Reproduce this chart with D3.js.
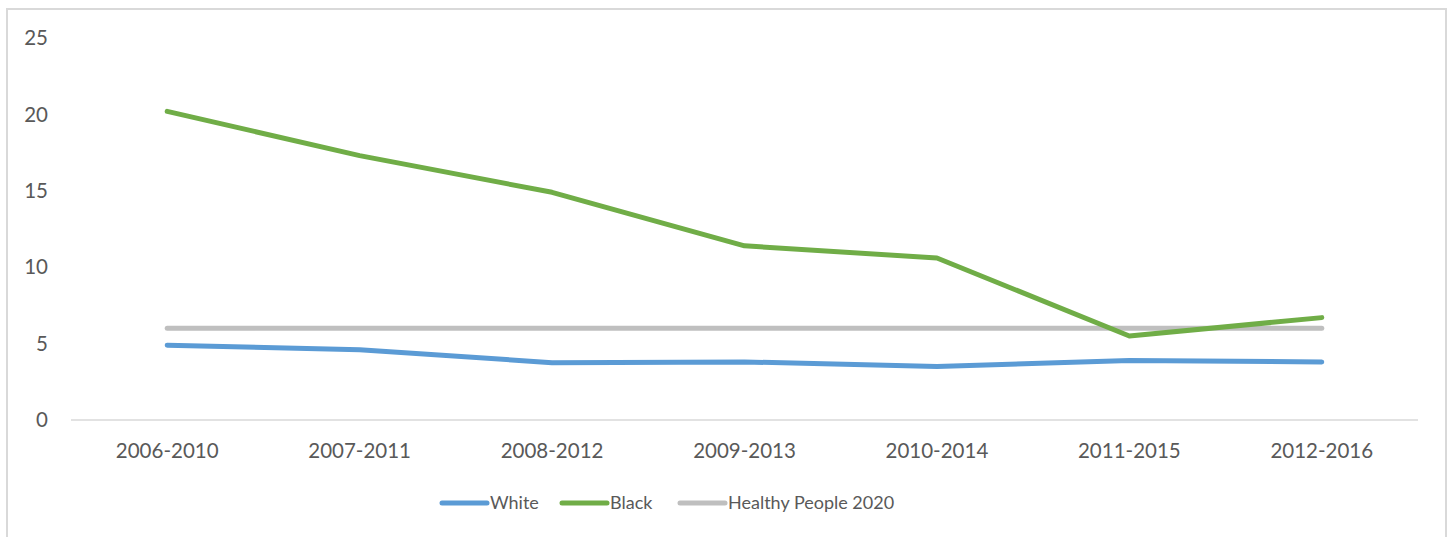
<!DOCTYPE html>
<html>
<head>
<meta charset="utf-8">
<script src="https://cdn.jsdelivr.net/npm/d3@7"></script>
<style>
  body { margin: 0; background: #fff; }
  svg { display: block; font-family: Lato, "Open Sans", sans-serif; }
</style>
</head>
<body>
<svg id="chart" width="1450" height="537"></svg>
<script>
'use strict';

// Data
const periods = ['2006-2010', '2007-2011', '2008-2012', '2009-2013', '2010-2014', '2011-2015', '2012-2016'];
const white = [4.9, 4.6, 3.75, 3.8, 3.5, 3.9, 3.8];
const black = [20.2, 17.3, 14.9, 11.4, 10.6, 5.5, 6.7];
const healthyPeople = [6, 6, 6, 6, 6, 6, 6];
const yTicks = [0, 5, 10, 15, 20, 25];

const seriesNames = ['White', 'Black', 'Healthy People 2020'];
const seriesColors = ['#5b9bd5', '#70ad47', '#bfbfbf'];

const svg = d3.select('#chart');

// outer chart border
svg.append('rect')
  .attr('x', 7).attr('y', 9)
  .attr('width', 1439).attr('height', 540)
  .attr('fill', 'none')
  .attr('stroke', '#d9d9d9')
  .attr('stroke-width', 2);

// scales
const x = d3.scaleBand()
  .domain(periods)
  .range([71, 1418]);
const y = d3.scaleLinear()
  .domain([0, 25])
  .range([420, 38]);

const cx = d => x(d) + x.bandwidth() / 2;

// y labels (no gridlines in the reference)
svg.append('g')
  .selectAll('text')
  .data(yTicks)
  .join('text')
  .attr('x', 48)
  .attr('y', d => y(d))
  .attr('dy', '0.35em')
  .attr('text-anchor', 'end')
  .attr('font-size', 20.5)
  .attr('fill', '#595959')
  .text(d => d);

// x axis line
svg.append('line')
  .attr('x1', 71).attr('x2', 1418)
  .attr('y1', y(0)).attr('y2', y(0))
  .attr('stroke', '#d9d9d9')
  .attr('stroke-width', 1.5);

// x labels
svg.append('g')
  .selectAll('text')
  .data(periods)
  .join('text')
  .attr('x', d => cx(d))
  .attr('y', 451)
  .attr('dy', '0.35em')
  .attr('text-anchor', 'middle')
  .attr('font-size', 20.5)
  .attr('fill', '#595959')
  .text(d => d);

// lines
const line = d3.line()
  .x((d, i) => cx(periods[i]))
  .y(d => y(d));

const allSeries = [white, black, healthyPeople];

// healthy people first, then white, black on top
const drawOrder = [2, 0, 1];
svg.append('g')
  .selectAll('path')
  .data(drawOrder)
  .join('path')
  .attr('d', k => line(allSeries[k]))
  .attr('fill', 'none')
  .attr('stroke', k => seriesColors[k])
  .attr('stroke-width', 5)
  .attr('stroke-linecap', 'round')
  .attr('stroke-linejoin', 'round');

// legend
const legendX = [442, 562, 680];
const legend = svg.append('g')
  .selectAll('g')
  .data(seriesNames)
  .join('g')
  .attr('transform', (d, i) => `translate(${legendX[i]},503)`);

legend.append('line')
  .attr('x1', 0).attr('x2', 45)
  .attr('stroke', (d, i) => seriesColors[i])
  .attr('stroke-width', 5)
  .attr('stroke-linecap', 'round');

legend.append('text')
  .attr('x', 48)
  .attr('dy', '0.35em')
  .attr('font-size', 18)
  .attr('fill', '#595959')
  .text(d => d);
</script>
</body>
</html>
